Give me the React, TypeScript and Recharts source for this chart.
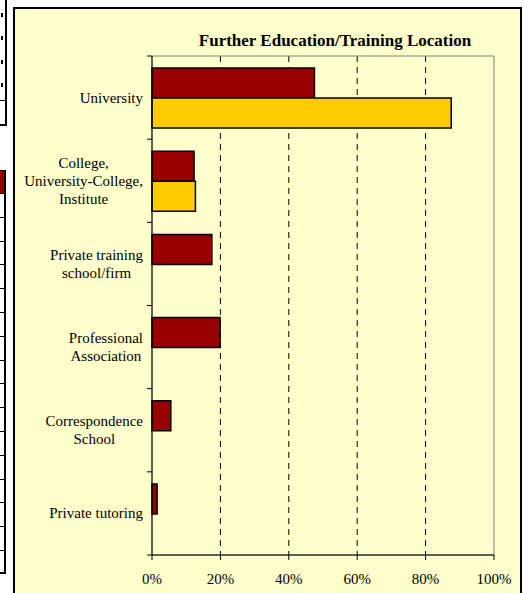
import React from "react";
import {
  BarChart,
  Bar,
  XAxis,
  YAxis,
  CartesianGrid,
  ReferenceArea,
} from "recharts";

const categories = [
  "University",
  "College,\nUniversity-College,\nInstitute",
  "Private training\nschool/firm",
  "Professional\nAssociation",
  "Correspondence\nSchool",
  "Private tutoring",
];
const seriesRed = [47.5, 12.3, 17.5, 19.9, 5.5, 1.5];
const seriesYellow: (number | null)[] = [87.5, 12.7, null, null, null, null];
const xTicks = [0, 20, 40, 60, 80, 100];
const gridValues = [20, 40, 60, 80];

const FONT = "'Liberation Serif', 'Times New Roman', serif";
const PANEL_BG = "#FFFFCC";
const RED = "#990000";
const YELLOW = "#FFCC00";
const TICK_SIZE = 5;
const TICK_MARGIN = 4;

const data = categories.map((name, i) => ({
  name,
  red: seriesRed[i],
  yellow: seriesYellow[i],
}));

let ctx: CanvasRenderingContext2D | null = null;
function textWidth(s: string, font: string): number {
  if (!ctx) ctx = document.createElement("canvas").getContext("2d");
  if (!ctx) return s.length * 7;
  ctx.font = font;
  return ctx.measureText(s).width;
}

function CategoryTick(props: any) {
  const { x, y, payload, index, visibleTicksCount } = props;
  const lines: string[] = String(payload.value).split("\n");
  const half = payload.offset ?? 0;
  const axisX = x + TICK_SIZE + TICK_MARGIN;
  const lineH = 18;
  const maxW = Math.max(...lines.map((l) => textWidth(l, `15px ${FONT}`)));
  const cx = x - maxW / 2;
  return (
    <g>
      <line x1={axisX} x2={axisX - TICK_SIZE} y1={y - half} y2={y - half} stroke="#000" />
      {index === visibleTicksCount - 1 && (
        <line x1={axisX} x2={axisX - TICK_SIZE} y1={y + half} y2={y + half} stroke="#000" />
      )}
      {lines.map((l, i) => (
        <text
          key={i}
          x={cx}
          y={y + (i - (lines.length - 1) / 2) * lineH}
          textAnchor="middle"
          dominantBaseline="central"
          fontFamily={FONT}
          fontSize={15}
          fill="#000"
        >
          {l}
        </text>
      ))}
    </g>
  );
}

// dashed verticals only at the inner ticks, drawn under the bars
function gridX({ xAxis, offset }: any): number[] {
  const scale = xAxis?.scale;
  if (typeof scale === "function") return gridValues.map((v) => scale(v));
  return gridValues.map((v) => offset.left + (offset.width * v) / 100);
}

function LeftStrip() {
  const rows = Array.from({ length: 16 }, (_, i) => i);
  return (
    <>
      {/* upper cut-off table */}
      <div style={{ position: "absolute", left: 0, top: 0, width: 5, height: 124, borderRight: "2px solid #000", borderBottom: "2px solid #000" }} />
      <div style={{ position: "absolute", left: 0, top: 100, width: 6, height: 1, background: "#000" }} />
      {[15, 38, 62, 85].map((t) => (
        <div key={t} style={{ position: "absolute", left: 1, top: t - 2, width: 2, height: 4, background: "#000" }} />
      ))}
      {/* lower cut-off table */}
      <div style={{ position: "absolute", left: 0, top: 170, width: 4, height: 23, background: RED, borderTop: "1px solid #000" }} />
      <div style={{ position: "absolute", left: 0, top: 170, width: 4, height: 402, borderRight: "2px solid #000", borderBottom: "2px solid #000" }} />
      {rows.map((r) => (
        <div key={r} style={{ position: "absolute", left: 0, top: Math.round(193 + r * 23.8), width: 5, height: 1, background: "#000" }} />
      ))}
    </>
  );
}

export default function App() {
  return (
    <div style={{ position: "absolute", left: 0, top: 0, width: 524, height: 593, overflow: "hidden", background: "#fff", fontFamily: FONT }}>
      <LeftStrip />
      <div
        style={{
          position: "absolute",
          left: 13,
          top: 7,
          width: 509,
          height: 620,
          boxSizing: "border-box",
          border: "2px solid #000",
          background: PANEL_BG,
        }}
      />
      <div
        style={{
          position: "absolute",
          left: 185,
          top: 31,
          width: 300,
          textAlign: "center",
          fontSize: 17,
          fontWeight: "bold",
          lineHeight: "20px",
          color: "#000",
          whiteSpace: "nowrap",
        }}
      >
        Further Education/Training Location
      </div>
      <div style={{ position: "absolute", left: 0, top: 0 }}>
        <BarChart
          width={524}
          height={593}
          data={data}
          layout="vertical"
          margin={{ top: 56, right: 30, bottom: 8, left: 0 }}
          barCategoryGap="14.5%"
          barGap={0}
        >
          <CartesianGrid
            horizontal={false}
            vertical
            stroke="#000"
            strokeDasharray="6 5"
            verticalCoordinatesGenerator={gridX}
          />
          <ReferenceArea x1={0} x2={100} fill="none" stroke="#808080" strokeWidth={1} ifOverflow="visible" />
          <XAxis
            type="number"
            domain={[0, 100]}
            ticks={xTicks}
            tickFormatter={(v) => `${v}%`}
            tick={{ fontSize: 15, fontFamily: FONT, fill: "#000" }}
            axisLine={{ stroke: "#000" }}
            tickLine={{ stroke: "#000" }}
            tickSize={TICK_SIZE}
            tickMargin={13}
            interval={0}
          />
          <YAxis
            type="category"
            dataKey="name"
            width={152}
            axisLine={{ stroke: "#000" }}
            tickLine={false}
            tickSize={TICK_SIZE}
            tickMargin={TICK_MARGIN}
            interval={0}
            tick={<CategoryTick />}
          />
          <Bar dataKey="red" name="Group 1" fill={RED} stroke="#000" strokeWidth={1.5} isAnimationActive={false} />
          <Bar dataKey="yellow" name="Group 2" fill={YELLOW} stroke="#000" strokeWidth={1.5} isAnimationActive={false} />
        </BarChart>
      </div>
    </div>
  );
}
